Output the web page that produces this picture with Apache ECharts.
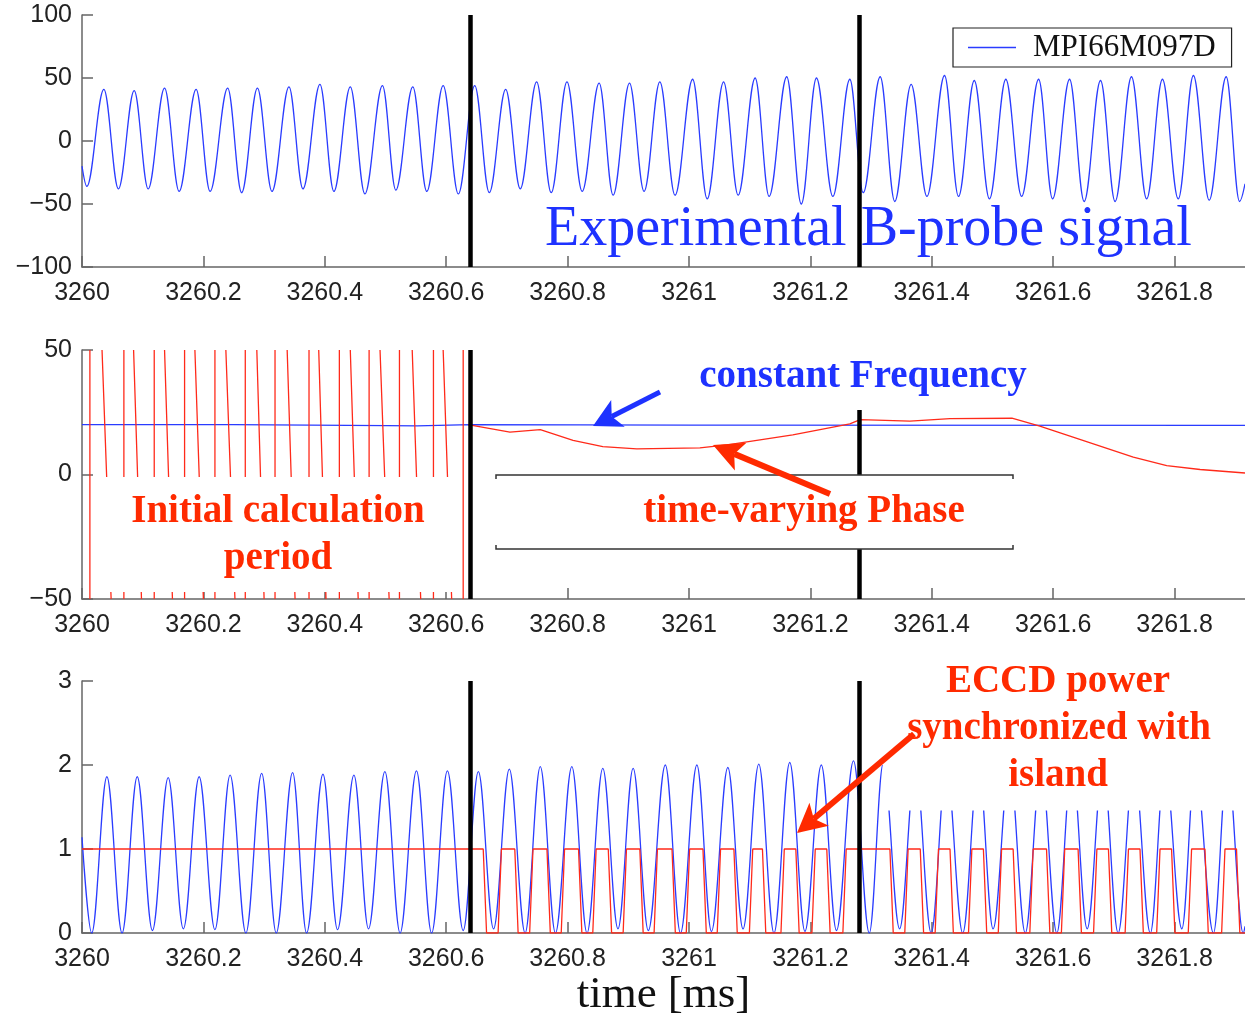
<!DOCTYPE html>
<html>
<head>
<meta charset="utf-8">
<title>MPI66M097D – ECCD phase locking</title>
<script src="https://cdn.jsdelivr.net/npm/echarts@6/dist/echarts.min.js"></script>
<style>
  html, body { margin: 0; padding: 0; background: #fff; }
  #chart { width: 1245px; height: 1014px; }
</style>
</head>
<body>
<div id="chart"></div>
<script>
// ---------------------------------------------------------------------------
// Data (time in ms)
// ---------------------------------------------------------------------------

// Time axis
const X_MIN = 3260.0;
const X_MAX = 3261.916;
const X_STEP = 0.2;

// Controller events (vertical markers)
const eventT = [3260.636, 3261.275];

// B-probe signal, successive extrema [t, value]
const probeSignal = [
  [3260.000, -20], [3260.008, -36], [3260.036, 41], [3260.060, -38],
  [3260.086, 40], [3260.109, -38], [3260.136, 42], [3260.160, -40],
  [3260.188, 41], [3260.211, -40], [3260.240, 42], [3260.263, -41],
  [3260.289, 42], [3260.313, -40], [3260.341, 43], [3260.364, -38],
  [3260.392, 45], [3260.415, -40], [3260.442, 43], [3260.466, -42],
  [3260.495, 44], [3260.517, -39], [3260.545, 43], [3260.568, -40],
  [3260.595, 44], [3260.620, -42], [3260.647, 44], [3260.671, -41],
  [3260.698, 41], [3260.722, -38], [3260.749, 47], [3260.773, -41],
  [3260.799, 47], [3260.824, -40], [3260.852, 46], [3260.875, -43],
  [3260.902, 46], [3260.926, -40], [3260.952, 47], [3260.977, -43],
  [3261.006, 49], [3261.030, -46], [3261.057, 47], [3261.081, -43],
  [3261.109, 50], [3261.132, -44], [3261.161, 51], [3261.185, -50],
  [3261.210, 50], [3261.237, -44], [3261.265, 49], [3261.287, -41],
  [3261.315, 51], [3261.339, -48], [3261.366, 45], [3261.392, -44],
  [3261.421, 52], [3261.444, -44], [3261.470, 48], [3261.495, -46],
  [3261.522, 49], [3261.548, -44], [3261.576, 49], [3261.599, -46],
  [3261.627, 49], [3261.651, -48], [3261.678, 48], [3261.702, -48],
  [3261.729, 51], [3261.754, -46], [3261.780, 49], [3261.806, -46],
  [3261.831, 52], [3261.857, -47], [3261.885, 51], [3261.907, -48],
  [3261.916, -34]
];

// Estimated mode frequency (kHz)
const freqT = [3260.000, 3260.249, 3260.251, 3260.502, 3260.504, 3260.552, 3260.554, 3260.640, 3261.000, 3261.916];
const freqV = [20.0, 20.0, 19.6, 19.6, 19.5, 19.5, 19.9, 20.0, 19.8, 19.7];

// Phase during the initial calculation period: wrap-around lines
const wrapJumpT    = [3260.013, 3260.069, 3260.119, 3260.169, 3260.219, 3260.269, 3260.318,
                      3260.374, 3260.424, 3260.473, 3260.523, 3260.579, 3260.628];
const wrapFallTopT = [3260.033, 3260.085, 3260.136, 3260.186, 3260.237, 3260.288,
                      3260.338, 3260.390, 3260.442, 3260.491, 3260.544, 3260.595];
const wrapFallBotT = [3260.048, 3260.098, 3260.149, 3260.200, 3260.252, 3260.300,
                      3260.351, 3260.402, 3260.455, 3260.506, 3260.558, 3260.609];

// Phase once the estimate has settled
const phaseT = [3260.636, 3260.705, 3260.755, 3260.809, 3260.858, 3260.914, 3261.018,
                3261.063, 3261.171, 3261.265, 3261.282, 3261.364, 3261.430, 3261.532,
                3261.578, 3261.732, 3261.787, 3261.842, 3261.916];
const phaseV = [20.0, 17.0, 18.0, 13.7, 11.2, 10.3, 10.7, 11.9, 15.9, 20.3, 22.0, 21.4,
                22.4, 22.6, 19.4, 7.0, 3.6, 2.0, 0.6];

// Island signal (normalised), successive extrema
const islandT = [3260.000, 3260.016, 3260.041, 3260.066, 3260.091, 3260.116, 3260.142, 3260.167,
                 3260.193, 3260.219, 3260.244, 3260.270, 3260.296, 3260.320, 3260.347, 3260.370,
                 3260.397, 3260.421, 3260.448, 3260.472, 3260.499, 3260.524, 3260.551, 3260.576,
                 3260.602, 3260.628, 3260.653, 3260.678, 3260.704, 3260.730, 3260.755, 3260.780,
                 3260.807, 3260.832, 3260.858, 3260.883, 3260.908, 3260.933, 3260.961, 3260.986,
                 3261.013, 3261.037, 3261.064, 3261.089, 3261.115, 3261.140, 3261.166, 3261.191,
                 3261.218, 3261.243, 3261.271, 3261.297, 3261.320, 3261.347, 3261.373, 3261.399,
                 3261.424, 3261.451, 3261.477, 3261.501, 3261.528, 3261.554, 3261.580, 3261.606,
                 3261.631, 3261.656, 3261.682, 3261.707, 3261.733, 3261.760, 3261.784, 3261.812,
                 3261.834, 3261.864, 3261.887, 3261.913, 3261.916];
const islandV = [1.14, 0.00, 1.86, 0.00, 1.86, 0.03, 1.85, 0.05,
                 1.86, 0.04, 1.88, 0.00, 1.90, 0.00, 1.91, 0.00,
                 1.89, 0.04, 1.88, 0.05, 1.92, 0.00, 1.93, 0.00,
                 1.93, 0.03, 1.92, 0.05, 1.95, 0.00, 1.98, 0.00,
                 1.98, 0.00, 1.96, 0.05, 1.96, 0.03, 2.00, 0.00,
                 2.00, 0.02, 1.97, 0.05, 2.01, 0.00, 2.03, 0.02,
                 2.00, 0.03, 2.05, 0.00, 2.02, 0.05, 2.00, 0.00,
                 1.99, 0.00, 2.01, 0.05, 2.00, 0.00, 1.98, 0.00,
                 2.02, 0.05, 2.00, 0.00, 2.01, 0.00, 1.99, 0.05,
                 2.00, 0.00, 2.02, 0.00, 0.08];

// ECCD power gate: start / end of each "on" plateau
const eccdOnT  = [3260.000, 3260.691, 3260.743, 3260.795, 3260.847, 3260.897, 3260.948, 3261.001,
                  3261.052, 3261.105, 3261.157, 3261.208, 3261.259, 3261.361, 3261.411, 3261.466,
                  3261.515, 3261.567, 3261.619, 3261.672, 3261.724, 3261.776, 3261.828, 3261.883];
const eccdOffT = [3260.661, 3260.713, 3260.766, 3260.818, 3260.867, 3260.919, 3260.972, 3261.023,
                  3261.074, 3261.121, 3261.176, 3261.227, 3261.331, 3261.381, 3261.430, 3261.485,
                  3261.534, 3261.589, 3261.641, 3261.691, 3261.743, 3261.795, 3261.850, 3261.902];
const ECCD_RAMP = 0.0055;   // switching time of the gyrotron gate

// ---------------------------------------------------------------------------
// Series assembly
// ---------------------------------------------------------------------------
const zip = (ts, vs) => ts.map((t, i) => [t, vs[i]]);

// wrap-around lines as separate two-point segments
const wrapSegments = [];
wrapJumpT.forEach(t => wrapSegments.push([[t, -50], [t, 50]]));
wrapFallTopT.forEach((t, i) => wrapSegments.push([[t, 50], [wrapFallBotT[i], -50]]));
wrapSegments.sort((a, b) => a[0][0] - b[0][0]);
const wrapData = [];
wrapSegments.forEach(seg => { wrapData.push(seg[0], seg[1], [seg[1][0], '-']); });

const eccdData = [];
eccdOnT.forEach((on, i) => {
  const off = eccdOffT[i];
  if (on > X_MIN) eccdData.push([on - ECCD_RAMP, 0]);
  eccdData.push([on, 1], [off, 1], [off + ECCD_RAMP, 0]);
});
eccdData.push([X_MAX, 0]);

// ---------------------------------------------------------------------------
// Styling
// ---------------------------------------------------------------------------
const BLUE = '#2a3cff';
const RED = '#ff2a1a';
const TEXT_BLUE = '#1e32ff';
const TEXT_RED = '#ff2a00';
const AXIS_GREY = '#666';

const fmtTime = v => String(Math.round(v * 10) / 10);
const fmtMinus = v => String(v).replace('-', '\u2212');

function timeAxis(gridIndex, extra) {
  return Object.assign({
    type: 'value', gridIndex,
    min: X_MIN, max: X_MAX, interval: X_STEP,
    axisLine: { show: true, onZero: false, lineStyle: { color: AXIS_GREY, width: 1.5 } },
    axisTick: { show: true, inside: true, length: 11, lineStyle: { color: AXIS_GREY, width: 1.5 } },
    axisLabel: { margin: 14, fontSize: 25, fontFamily: 'Liberation Sans', color: '#222',
                 showMaxLabel: false, formatter: fmtTime },
    splitLine: { show: false }
  }, extra || {});
}

function valueAxis(gridIndex, min, max, interval) {
  return {
    type: 'value', gridIndex, min, max, interval,
    axisLine: { show: true, onZero: false, lineStyle: { color: AXIS_GREY, width: 1.5 } },
    axisTick: { show: true, inside: true, length: 11, lineStyle: { color: AXIS_GREY, width: 1.5 } },
    axisLabel: { margin: 10, fontSize: 25, fontFamily: 'Liberation Sans', color: '#222',
                 formatter: fmtMinus },
    splitLine: { show: false }
  };
}

const eventMarks = {
  silent: true,
  symbol: ['none', 'none'],
  label: { show: false },
  emphasis: { disabled: true },
  lineStyle: { color: '#000', width: 4.5, type: 'solid' },
  data: eventT.map(t => ({ xAxis: t }))
};

function lineSeries(name, gi, data, color, extra) {
  return Object.assign({
    name, type: 'line', xAxisIndex: gi, yAxisIndex: gi, data,
    symbol: 'none', showSymbol: false,
    lineStyle: { color, width: 1.3 }, itemStyle: { color },
    emphasis: { disabled: true }
  }, extra || {});
}

// annotation arrow: shaft + notched head
function arrow(tail, tip, headLen, headHalf, notch, width, color) {
  const dx = tip[0] - tail[0], dy = tip[1] - tail[1];
  const L = Math.hypot(dx, dy);
  const ux = dx / L, uy = dy / L, nx = -uy, ny = ux;
  const bx = tip[0] - ux * headLen, by = tip[1] - uy * headLen;
  const nIn = [tip[0] - ux * (headLen - notch), tip[1] - uy * (headLen - notch)];
  return [
    { type: 'line', z: 120, silent: true,
      shape: { x1: tail[0], y1: tail[1], x2: nIn[0], y2: nIn[1] },
      style: { stroke: color, lineWidth: width } },
    { type: 'polygon', z: 120, silent: true,
      shape: { points: [tip, [bx + nx * headHalf, by + ny * headHalf], nIn, [bx - nx * headHalf, by - ny * headHalf]] },
      style: { fill: color } }
  ];
}

function label(text, x, y, font, color, align) {
  return { type: 'text', z: 110, silent: true, x, y,
    style: { text, font, fill: color,
             align: align || 'center', textAlign: align || 'center',
             verticalAlign: 'middle', textVerticalAlign: 'middle' } };
}

function whiteBox(x, y, w, h) {
  return { type: 'rect', z: 100, silent: true, shape: { x, y, width: w, height: h },
           style: { fill: '#fff' } };
}

const SERIF_BOLD = 'bold 39px "Liberation Serif"';

const graphics = [
  // panel 1
  label('Experimental B-probe signal', 545, 230, '56px "Liberation Serif"', TEXT_BLUE, 'left'),
  // panel 2
  whiteBox(688, 349, 352, 61),
  whiteBox(95, 477, 366, 115),
  whiteBox(496, 475, 517, 74),
  { type: 'polyline', z: 105, silent: true,
    shape: { points: [[496, 479], [496, 475], [1013, 475], [1013, 479]] },
    style: { stroke: '#333', lineWidth: 1.5, fill: null } },
  { type: 'polyline', z: 105, silent: true,
    shape: { points: [[496, 545], [496, 549], [1013, 549], [1013, 545]] },
    style: { stroke: '#333', lineWidth: 1.5, fill: null } },
  label('constant Frequency', 863, 377, SERIF_BOLD, TEXT_BLUE),
  label('Initial calculation', 278, 512, SERIF_BOLD, TEXT_RED),
  label('period', 278, 559, SERIF_BOLD, TEXT_RED),
  label('time-varying Phase', 804, 512, SERIF_BOLD, TEXT_RED),
  ...arrow([660, 392], [593, 426], 28, 15, 7, 5, TEXT_BLUE),
  ...arrow([830, 494], [713, 445], 30, 15, 7, 6, TEXT_RED),
  // panel 3
  whiteBox(879, 655, 366, 110),
  whiteBox(883, 765, 362, 45.5),
  label('ECCD power', 1058, 682, SERIF_BOLD, TEXT_RED),
  label('synchronized with', 1059, 729, SERIF_BOLD, TEXT_RED),
  label('island', 1058, 776, SERIF_BOLD, TEXT_RED),
  ...arrow([914, 734], [797, 833], 29, 15, 7, 6, TEXT_RED)
];

const option = {
  animation: false,
  backgroundColor: '#fff',
  grid: [
    { left: 82, top: 15, width: 1163, height: 252, outerBoundsMode: 'none', containLabel: false },
    { left: 82, top: 350, width: 1163, height: 249, outerBoundsMode: 'none', containLabel: false },
    { left: 82, top: 681, width: 1163, height: 252, outerBoundsMode: 'none', containLabel: false }
  ],
  xAxis: [
    timeAxis(0),
    timeAxis(1),
    timeAxis(2, {
      name: 'time [ms]', nameLocation: 'middle', nameGap: 38,
      nameTextStyle: { fontFamily: 'Liberation Serif', fontSize: 45, color: '#111' }
    })
  ],
  yAxis: [
    valueAxis(0, -100, 100, 50),
    valueAxis(1, -50, 50, 50),
    valueAxis(2, 0, 3, 1)
  ],
  legend: {
    data: [{ name: 'MPI66M097D', icon: 'rect' }],
    left: 953, top: 28,
    padding: [4, 16, 4, 15],
    itemWidth: 48, itemHeight: 1.4,
    selectedMode: false,
    borderColor: '#222', borderWidth: 1.2,
    backgroundColor: '#fff',
    textStyle: { fontFamily: 'Liberation Serif', fontSize: 31, color: '#111', padding: [0, 0, 0, 12] }
  },
  series: [
    lineSeries('MPI66M097D', 0, probeSignal, BLUE,
      { smooth: 0.36, smoothMonotone: 'x', markLine: eventMarks }),
    lineSeries('frequency', 1, zip(freqT, freqV), BLUE, { markLine: eventMarks }),
    lineSeries('phase wrap', 1, wrapData, RED, { connectNulls: false }),
    lineSeries('phase', 1, zip(phaseT, phaseV), RED),
    lineSeries('island', 2, zip(islandT, islandV), BLUE,
      { smooth: 0.36, smoothMonotone: 'x', markLine: eventMarks }),
    lineSeries('ECCD power', 2, eccdData, RED)
  ],
  graphic: { elements: graphics }
};

const chart = echarts.init(document.getElementById('chart'), null, { renderer: 'canvas' });
chart.setOption(option);
</script>
</body>
</html>
